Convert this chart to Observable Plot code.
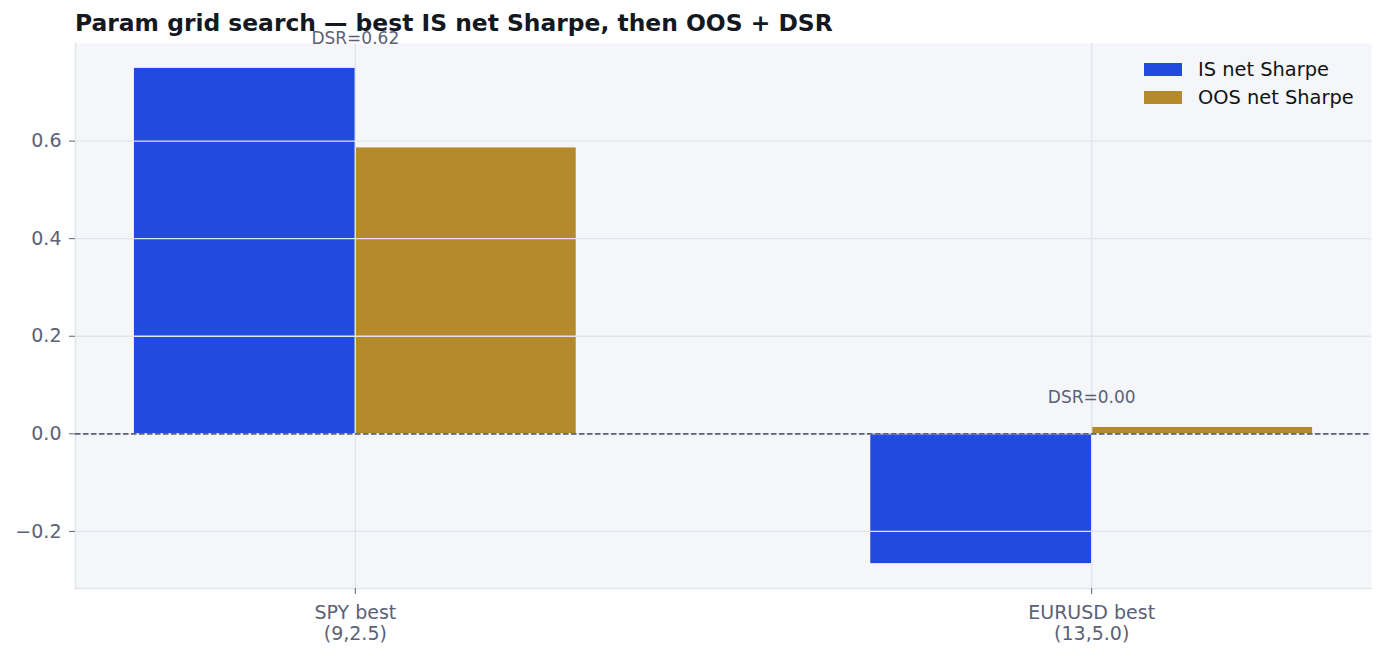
<!DOCTYPE html>
<html>
<head>
<meta charset="utf-8">
<script src="https://cdn.jsdelivr.net/npm/d3@7"></script>
<script src="https://cdn.jsdelivr.net/npm/@observablehq/plot@0.6"></script>
<style>
  html, body { margin: 0; padding: 0; background: #ffffff; }
  body { font-family: "DejaVu Sans", sans-serif; }
  #wrap { position: relative; width: 1386px; height: 657px; overflow: hidden; }
  #title { height: 40px; position: relative; }
  #title span { position: absolute; left: 75px; top: 9px; font-weight: bold; font-size: 23.4px; color: #141821; white-space: nowrap; }
  #legend { position: absolute; left: 1144px; top: 55px; font-size: 19.4px; color: #111111; }
  .item { display: flex; align-items: center; height: 28px; }
  .sw { width: 38px; height: 13px; margin-right: 16px; }
</style>
</head>
<body>
<div id="wrap">
  <div id="title"><span>Param grid search — best IS net Sharpe, then OOS + DSR</span></div>
  <div id="chart"></div>
  <div id="legend"></div>
</div>
<script>
const categories = ["SPY best\n(9,2.5)", "EURUSD best\n(13,5.0)"];
const isSharpe = [0.749, -0.266];
const oosSharpe = [0.586, 0.013];
const dsr = [0.62, 0.00];
const seriesNames = ["IS net Sharpe", "OOS net Sharpe"];
const seriesColors = ["#214be0", "#b58a2c"];
const yTicks = [-0.2, 0.0, 0.2, 0.4, 0.6];

const barWidth = 0.3;
const rows = [];
categories.forEach((c, i) => {
  rows.push({i, series: seriesNames[0], value: isSharpe[i], x1: i - barWidth, x2: i});
  rows.push({i, series: seriesNames[1], value: oosSharpe[i], x1: i, x2: i + barWidth});
});
const labels = categories.map((c, i) => ({
  i, text: `DSR=${dsr[i].toFixed(2)}`, y: Math.max(isSharpe[i], oosSharpe[i], 0) + 0.05
}));

const textGray = "#5a6178";
const gridColor = "#e1e4ec";

const chart = Plot.plot({
  width: 1386,
  height: 617,
  marginTop: 3,
  marginBottom: 69,
  marginLeft: 75,
  marginRight: 15,
  style: {fontFamily: "DejaVu Sans, sans-serif", fontSize: "19px", color: textGray, background: "transparent", overflow: "visible"},
  x: {domain: [-0.38, 1.38]},
  y: {domain: [-0.317, 0.800]},
  color: {domain: seriesNames, range: seriesColors},
  marks: [
    Plot.frame({fill: "#f5f6fa", stroke: null}),
    Plot.rectY(rows, {x1: "x1", x2: "x2", y1: 0, y2: "value", fill: "series"}),
    Plot.gridY(yTicks, {stroke: gridColor, strokeOpacity: 1, strokeWidth: 1.3}),
    Plot.gridX([0, 1], {stroke: gridColor, strokeOpacity: 1, strokeWidth: 1.3}),
    Plot.frame({anchor: "left", stroke: "#e3e5ec", strokeWidth: 1.5}),
    Plot.frame({anchor: "bottom", stroke: "#e3e5ec", strokeWidth: 1.5}),
    Plot.ruleY([0], {stroke: "#5e6478", strokeWidth: 1.6, strokeDasharray: "5.5,2.5"}),
    Plot.axisY(yTicks, {tickFormat: d3.format(".1f"), tickSize: 6, tickPadding: 8, stroke: textGray, fill: textGray, label: null, fontSize: 19}),
    Plot.axisX([0, 1], {tickFormat: (d) => categories[d], tickSize: 6, tickPadding: 9, stroke: textGray, fill: textGray, label: null, lineHeight: 1.12, fontSize: 19}),
    Plot.text(labels, {x: "i", y: "y", text: "text", fill: textGray, fontSize: 17, lineAnchor: "bottom", dy: 0})
  ]
});
document.getElementById("chart").appendChild(chart);

const legend = document.getElementById("legend");
seriesNames.forEach((s, k) => {
  const it = document.createElement("div");
  it.className = "item";
  const sw = document.createElement("div");
  sw.className = "sw";
  sw.style.background = seriesColors[k];
  const t = document.createElement("span");
  t.textContent = s;
  it.appendChild(sw); it.appendChild(t);
  legend.appendChild(it);
});
</script>
</body>
</html>
